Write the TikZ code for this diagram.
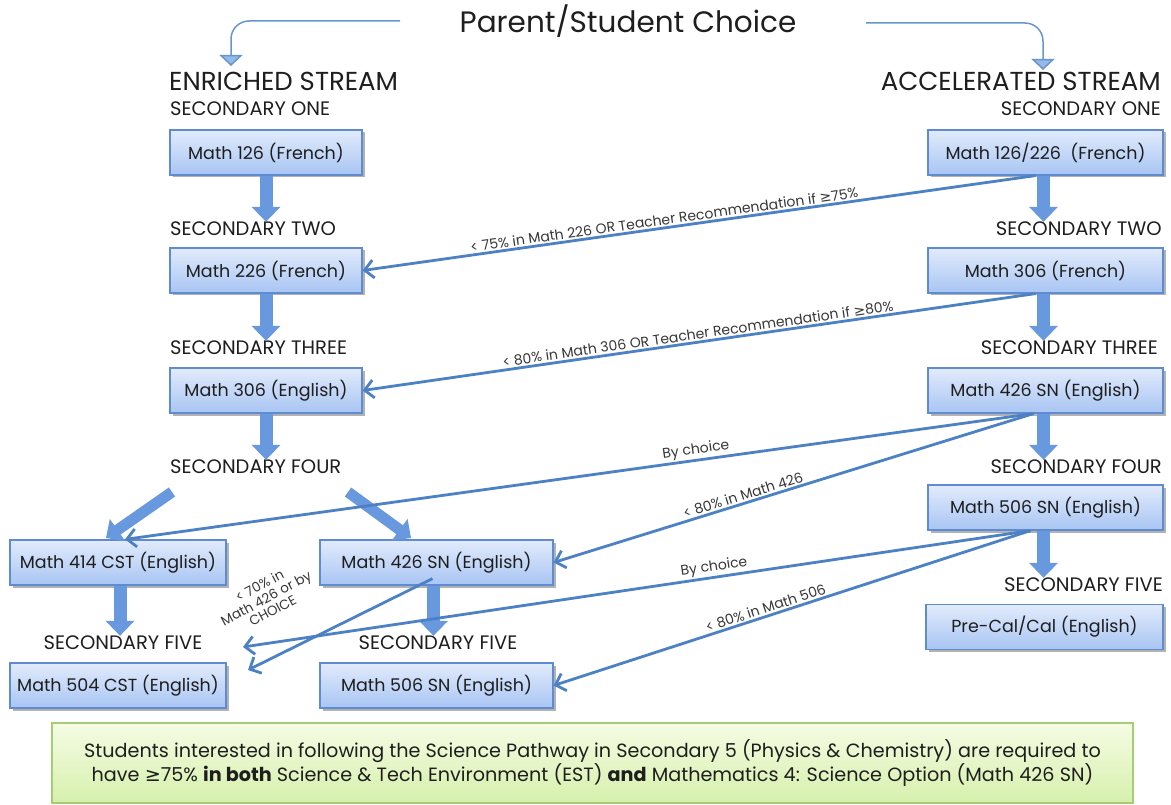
\documentclass[tikz,border=0pt]{standalone}
\usepackage{fontspec}
\setmainfont{Poppins}
\newfontfamily\symf{DejaVu Sans}
\usetikzlibrary{arrows.meta,shadows}
\definecolor{boxtop}{RGB}{226,235,252}
\definecolor{boxbot}{RGB}{168,197,243}
\definecolor{boxline}{RGB}{95,140,208}
\definecolor{lineblue}{RGB}{76,130,196}
\definecolor{blockblue}{RGB}{104,152,222}
\definecolor{arrowfill}{RGB}{150,185,235}
\definecolor{greentop}{RGB}{245,252,228}
\definecolor{greenbot}{RGB}{214,240,172}
\definecolor{greenline}{RGB}{165,205,115}
\definecolor{txt}{RGB}{30,30,30}
\definecolor{ltxt}{RGB}{55,55,55}
\tikzset{
  mbox/.style={draw=boxline, line width=1.2pt, top color=boxtop, bottom color=boxbot,
    minimum height=45pt, inner sep=0pt, text=txt, font=\fontsize{17.5}{19}\selectfont,
    drop shadow={shadow xshift=2.5pt, shadow yshift=-2.5pt, opacity=0.3, fill=black}},
  seclbl/.style={inner sep=0pt, text=txt, font=\fontsize{19.5}{21}\selectfont},
  streamlbl/.style={inner sep=0pt, text=txt, font=\fontsize{26}{28}\selectfont},
  blk/.style={line width=13pt, draw=blockblue, -{Triangle[width=28pt,length=15pt]}},
  thin/.style={line width=2.8pt, draw=lineblue, -{Straight Barb[length=9pt,width=18pt]}},
  bent/.style={line width=1.5pt, draw=lineblue!85, rounded corners=18pt,
    -{Triangle[width=23pt,length=11pt,fill=arrowfill]}},
  lnlbl/.style={text=ltxt, font=\fontsize{14}{15}\selectfont, inner sep=1.5pt},
}
\begin{document}
\begin{tikzpicture}[x=1pt,y=-1pt]
\useasboundingbox (0,0) rectangle (1171,805);
% title
\node[inner sep=0pt, text=txt, font=\fontsize{29.5}{31}\selectfont] (title) at (628,21) {Parent/Student Choice};
\coordinate (tl) at (400,21);
\coordinate (tlend) at (231,66);
\coordinate (tr) at (866,23);
\coordinate (trend) at (1043,70);
\draw[bent] (tl) -| (tlend);
\draw[bent] (tr) -| (trend);
% stream labels
\node[streamlbl, anchor=west] (enr) at (169,81) {ENRICHED STREAM};
\node[streamlbl, anchor=east] (acc) at (1161,81) {ACCELERATED STREAM};
% secondary labels
\node[seclbl, anchor=west] (s1L) at (170,109) {SECONDARY ONE};
\node[seclbl, anchor=east] (s1R) at (1161,109) {SECONDARY ONE};
\node[seclbl, anchor=west] (s2L) at (170,229) {SECONDARY TWO};
\node[seclbl, anchor=east] (s2R) at (1162,229) {SECONDARY TWO};
\node[seclbl, anchor=west] (s3L) at (170,348) {SECONDARY THREE};
\node[seclbl, anchor=east] (s3R) at (1158,348) {SECONDARY THREE};
\node[seclbl, anchor=west] (s4L) at (170,467) {SECONDARY FOUR};
\node[seclbl, anchor=east] (s4R) at (1162,467) {SECONDARY FOUR};
\node[seclbl, anchor=east] (s5R) at (1163,585) {SECONDARY FIVE};
\node[seclbl] (s5L) at (123,643) {SECONDARY FIVE};
\node[seclbl] (s5M) at (438,643) {SECONDARY FIVE};
% boxes left
\node[mbox, minimum width=192pt] (b126) at (266,152.5) {Math 126 (French)};
\node[mbox, minimum width=192pt] (b226) at (266,270.5) {Math 226 (French)};
\node[mbox, minimum width=192pt] (b306e) at (266,390.5) {Math 306 (English)};
% boxes right
\node[mbox, minimum width=235pt] (b1226) at (1045.5,152.5) {Math 126/226\ \ (French)};
\node[mbox, minimum width=235pt] (b306f) at (1045.5,270.5) {Math 306 (French)};
\node[mbox, minimum width=235pt] (b426r) at (1045.5,390.5) {Math 426 SN (English)};
\node[mbox, minimum width=235pt] (b506r) at (1045.5,507.5) {Math 506 SN (English)};
\node[mbox, minimum width=237pt] (bpre) at (1044.5,627) {Pre-Cal/Cal (English)};
% boxes bottom
\node[mbox, minimum width=216pt] (b414) at (118,562.5) {Math 414 CST (English)};
\node[mbox, minimum width=233pt] (b426m) at (436.5,562.5) {Math 426 SN (English)};
\node[mbox, minimum width=216pt] (b504) at (118,685.5) {Math 504 CST (English)};
\node[mbox, minimum width=233pt] (b506m) at (436.5,685.5) {Math 506 SN (English)};
% block arrows
\draw[blk] (b126.south) -- (b126.south |- s2L.north);
\draw[blk] (b226.south) -- (b226.south |- s3L.north);
\draw[blk] (b306e.south) -- (b306e.south |- s4L.north);
\draw[blk] ([xshift=-2pt]b1226.south) -- ([xshift=-2pt]b1226.south |- s2R.north);
\draw[blk] ([xshift=-2pt]b306f.south) -- ([xshift=-2pt]b306f.south |- s3R.north);
\draw[blk] ([xshift=-2pt]b426r.south) -- ([xshift=-2pt]b426r.south |- s4R.north);
\draw[blk] ([xshift=-2pt]b506r.south) -- ([xshift=-2pt]b506r.south |- s5R.north);
\draw[blk] ([xshift=2pt]b414.south) -- ([xshift=2pt]b414.south |- s5L.north);
\draw[blk] ([xshift=-3pt]b426m.south) -- ([xshift=-3pt]b426m.south |- s5M.north);
\coordinate (d1s) at (172,492);
\coordinate (d1e) at (106,538);
\coordinate (d2s) at (348,492);
\coordinate (d2e) at (411,538);
\draw[blk, line width=11pt, -{Triangle[width=26pt,length=14pt]}] (d1s) -- (d1e);
\draw[blk, line width=11pt, -{Triangle[width=26pt,length=14pt]}] (d2s) -- (d2e);
% thin arrows
\draw[thin] ([xshift=-10pt]b1226.south) -- (b226.east)
  node[lnlbl, pos=0.55, above, sloped] {< 75\% in Math 226 OR Teacher Recommendation if {\symf ≥}75\%};
\draw[thin] ([xshift=-10pt]b306f.south) -- (b306e.east)
  node[lnlbl, pos=0.5, above, sloped] {< 80\% in Math 306 OR Teacher Recommendation if {\symf ≥}80\%};
\draw[thin] ([xshift=-12pt]b426r.south) -- ([xshift=7pt]b414.north)
  node[lnlbl, pos=0.37, above, sloped] {By choice};
\draw[thin] ([xshift=-12pt]b426r.south) -- (b426m.east)
  node[lnlbl, pos=0.6, above, sloped] {< 80\% in Math 426};
\coordinate (c5) at (243,647);
\coordinate (c7) at (248,670);
\draw[thin] ([xshift=-15pt]b506r.south) -- (c5)
  node[lnlbl, pos=0.4, above, sloped] {By choice};
\draw[thin] ([xshift=-15pt]b506r.south) -- (b506m.east)
  node[lnlbl, pos=0.55, above, sloped] {< 80\% in Math 506};
\draw[thin] ([xshift=-4pt,yshift=7pt]b426m.south) -- (c7);
\node[lnlbl, rotate=28, align=center, font=\fontsize{13.5}{14}\selectfont] (l7) at (266,598) {< 70\% in\\Math 426 or by\\CHOICE};
% green box
\node[draw=greenline, line width=1.2pt, top color=greentop, bottom color=greenbot,
  minimum width=1081pt, minimum height=80pt, align=center, text=txt,
  font=\fontsize{19.2}{24}\selectfont] (note) at (592.5,763)
  {Students interested in following the Science Pathway in Secondary 5 (Physics \& Chemistry) are required to\\
   have {\symf ≥}75\% \textbf{in both} Science \& Tech Environment (EST) \textbf{and} Mathematics 4: Science Option (Math 426 SN)};
\end{tikzpicture}
\end{document}
